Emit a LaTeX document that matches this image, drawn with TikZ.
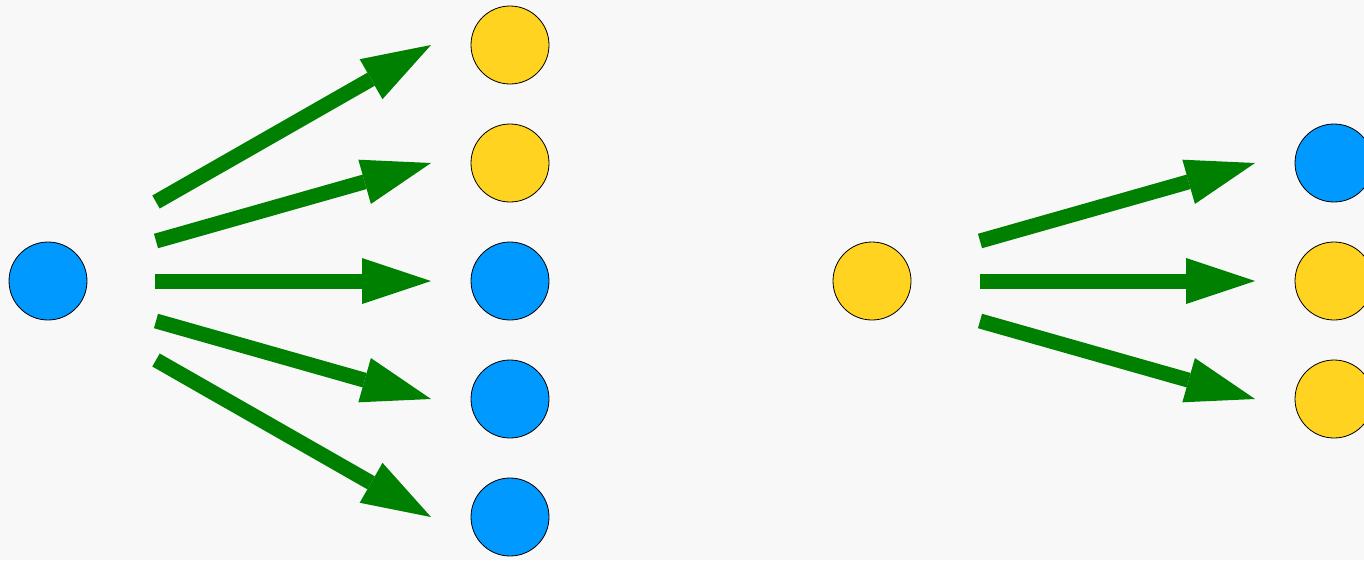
\documentclass[tikz,border=0pt]{standalone}
\usetikzlibrary{arrows.meta}
\definecolor{ballblue}{HTML}{0099FF}
\definecolor{ballyellow}{HTML}{FFD320}
\definecolor{arrowgreen}{HTML}{008000}
\definecolor{paper}{HTML}{F8F8F9}

\begin{document}
\begin{tikzpicture}[x=1pt, y=-1pt,
    ball/.style={circle, draw=black, line width=0.8pt, minimum size=78pt, inner sep=0pt},
    blueball/.style={ball, fill=ballblue},
    yellowball/.style={ball, fill=ballyellow},
    fatarrow/.style={draw=arrowgreen, line width=15pt, -{Triangle[length=69pt, width=46pt, line width=0pt]}}]
            \useasboundingbox (0,0) rectangle (1364,560);
            \fill[paper] (0,0) rectangle (1364,560);

            % left group
            \node[blueball] (left) at (48,281) {};
            \node[yellowball] (l1) at (510,45) {};
            \node[yellowball] (l2) at (510,163) {};
            \node[blueball] (l3) at (510,281) {};
            \node[blueball] (l4) at (510,399) {};
            \node[blueball] (l5) at (510,517) {};

            \coordinate (a1s) at (156,202); \coordinate (a1e) at (431,45);
            \coordinate (a2s) at (156,241); \coordinate (a2e) at (431,163);
            \coordinate (a3s) at (155,281); \coordinate (a3e) at (431,281);
            \coordinate (a4s) at (156,321); \coordinate (a4e) at (431,399);
            \coordinate (a5s) at (156,360); \coordinate (a5e) at (431,517);

            \draw[fatarrow] (a1s) -- (a1e);
            \draw[fatarrow] (a2s) -- (a2e);
            \draw[fatarrow] (a3s) -- (a3e);
            \draw[fatarrow] (a4s) -- (a4e);
            \draw[fatarrow] (a5s) -- (a5e);

            % right group
            \node[yellowball] (mid) at (872,281) {};
            \node[blueball] (r1) at (1334,163) {};
            \node[yellowball] (r2) at (1334,281) {};
            \node[yellowball] (r3) at (1334,399) {};

            \coordinate (b1s) at (980,241); \coordinate (b1e) at (1255,163);
            \coordinate (b2s) at (980,281); \coordinate (b2e) at (1255,281);
            \coordinate (b3s) at (980,321); \coordinate (b3e) at (1255,399);

            \draw[fatarrow] (b1s) -- (b1e);
            \draw[fatarrow] (b2s) -- (b2e);
            \draw[fatarrow] (b3s) -- (b3e);
        \end{tikzpicture}
\end{document}
